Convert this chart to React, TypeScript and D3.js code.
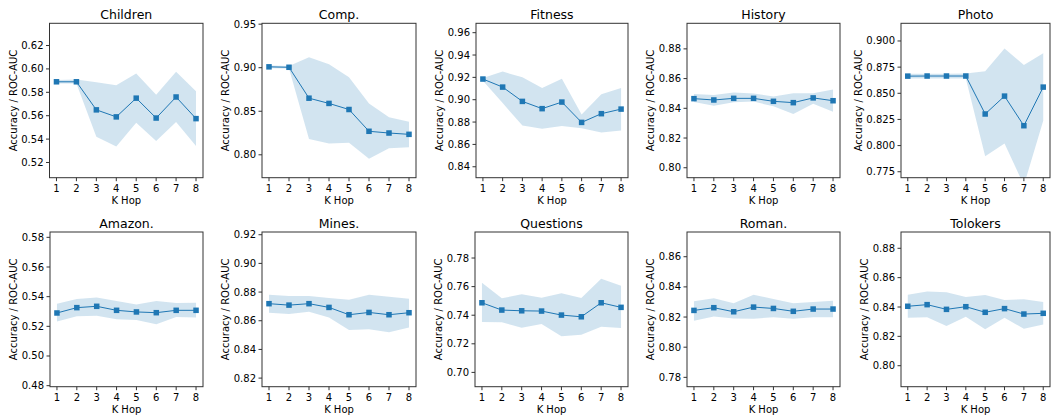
import * as d3 from 'd3'

// K hop values on the x axis
const kHop = [1, 2, 3, 4, 5, 6, 7, 8]

const datasetNames = [
  'Children', 'Comp.', 'Fitness', 'History', 'Photo',
  'Amazon.', 'Mines.', 'Questions', 'Roman.', 'Tolokers',
]

// mean / lower / upper of the shaded band
const childrenMean = [0.589, 0.589, 0.565, 0.559, 0.575, 0.558, 0.576, 0.5575]
const childrenLow = [0.5875, 0.5875, 0.542, 0.5336, 0.554, 0.5384, 0.5546, 0.534]
const childrenHigh = [0.5905, 0.591, 0.5887, 0.586, 0.596, 0.578, 0.5975, 0.581]

const compMean = [0.901, 0.9005, 0.865, 0.859, 0.852, 0.827, 0.825, 0.8235]
const compLow = [0.8995, 0.899, 0.818, 0.813, 0.8137, 0.7954, 0.8076, 0.8087]
const compHigh = [0.9025, 0.902, 0.9119, 0.904, 0.889, 0.859, 0.843, 0.838]

const fitnessMean = [0.9185, 0.9113, 0.8985, 0.892, 0.8979, 0.8797, 0.8875, 0.8916]
const fitnessLow = [0.917, 0.897, 0.877, 0.874, 0.8765, 0.8745, 0.8706, 0.8724]
const fitnessHigh = [0.9195, 0.9252, 0.92, 0.9104, 0.9187, 0.8867, 0.905, 0.9104]

const historyMean = [0.8465, 0.8456, 0.8467, 0.8467, 0.8447, 0.8438, 0.847, 0.8451]
const historyLow = [0.8442, 0.8418, 0.844, 0.8445, 0.8413, 0.8362, 0.8431, 0.8376]
const historyHigh = [0.8496, 0.849, 0.8507, 0.85, 0.8479, 0.8502, 0.8502, 0.8527]

const photoMean = [0.8664, 0.8665, 0.8665, 0.8665, 0.8302, 0.8473, 0.819, 0.8559]
const photoLow = [0.8641, 0.8641, 0.8641, 0.8641, 0.7898, 0.8021, 0.762, 0.8238]
const photoHigh = [0.8686, 0.8686, 0.8686, 0.8688, 0.871, 0.8927, 0.8771, 0.8883]

const amazonMean = [0.529, 0.5326, 0.5335, 0.5308, 0.5297, 0.5292, 0.5308, 0.5308]
const amazonLow = [0.5232, 0.5268, 0.5272, 0.5247, 0.5243, 0.5214, 0.5263, 0.5259]
const amazonHigh = [0.5353, 0.5384, 0.5395, 0.537, 0.5348, 0.537, 0.5357, 0.5359]

const minesMean = [0.8719, 0.8709, 0.8719, 0.8693, 0.8642, 0.8658, 0.8642, 0.8656]
const minesLow = [0.8656, 0.8647, 0.8663, 0.8623, 0.8535, 0.854, 0.8519, 0.8553]
const minesHigh = [0.8781, 0.8772, 0.8772, 0.8758, 0.8747, 0.8781, 0.8767, 0.8753]

const questionsMean = [0.7487, 0.7436, 0.7431, 0.7429, 0.7401, 0.7389, 0.7487, 0.7455]
const questionsLow = [0.7352, 0.735, 0.7313, 0.7338, 0.7252, 0.7264, 0.732, 0.731]
const questionsHigh = [0.7627, 0.7518, 0.7546, 0.7522, 0.7553, 0.752, 0.7655, 0.7606]

const romanMean = [0.8244, 0.8262, 0.8235, 0.8266, 0.8257, 0.8238, 0.8253, 0.8253]
const romanLow = [0.8176, 0.8204, 0.8191, 0.8189, 0.8198, 0.8189, 0.8198, 0.8198]
const romanHigh = [0.8304, 0.8324, 0.8291, 0.8348, 0.8319, 0.8291, 0.8299, 0.8308]

const tolokersMean = [0.8405, 0.8416, 0.8384, 0.8402, 0.8364, 0.8389, 0.8352, 0.8357]
const tolokersLow = [0.8327, 0.833, 0.827, 0.8334, 0.8248, 0.8327, 0.8252, 0.828]
const tolokersHigh = [0.8484, 0.8505, 0.85, 0.8468, 0.8482, 0.8448, 0.8452, 0.8434]

// y limits and ticks per subplot
const yLimits = [
  [0.507, 0.639], [0.7737, 0.951], [0.8302, 0.9684], [0.7933, 0.8972], [0.7693, 0.9169],
  [0.4793, 0.5836], [0.814, 0.9219], [0.69, 0.7982], [0.7738, 0.8764], [0.7857, 0.8911],
]
const yTickLabels = [
  ['0.52', '0.54', '0.56', '0.58', '0.60', '0.62'],
  ['0.80', '0.85', '0.90', '0.95'],
  ['0.84', '0.86', '0.88', '0.90', '0.92', '0.94', '0.96'],
  ['0.80', '0.82', '0.84', '0.86', '0.88'],
  ['0.775', '0.800', '0.825', '0.850', '0.875', '0.900'],
  ['0.48', '0.50', '0.52', '0.54', '0.56', '0.58'],
  ['0.82', '0.84', '0.86', '0.88', '0.90', '0.92'],
  ['0.70', '0.72', '0.74', '0.76', '0.78'],
  ['0.78', '0.80', '0.82', '0.84', '0.86'],
  ['0.80', '0.82', '0.84', '0.86', '0.88'],
]

const series = [
  [childrenMean, childrenLow, childrenHigh],
  [compMean, compLow, compHigh],
  [fitnessMean, fitnessLow, fitnessHigh],
  [historyMean, historyLow, historyHigh],
  [photoMean, photoLow, photoHigh],
  [amazonMean, amazonLow, amazonHigh],
  [minesMean, minesLow, minesHigh],
  [questionsMean, questionsLow, questionsHigh],
  [romanMean, romanLow, romanHigh],
  [tolokersMean, tolokersLow, tolokersHigh],
]

const W = 1052
const H = 417
const BLUE = '#1f77b4'
const INK = '#333'
const FONT = 'DejaVu Sans, sans-serif'

const colLeft = [[49.5, 262, 476, 687, 901], [50, 262, 475, 687, 901]]
const colRight = [203, 416, 628, 840, 1050]
const rowTop = [23.3, 232]
const rowBottom = [177.7, 386.7]

function Panel({ idx }: { idx: number }) {
  const row = Math.floor(idx / 5)
  const col = idx % 5
  const left = colLeft[row][col]
  const right = colRight[col]
  const top = rowTop[row]
  const bottom = rowBottom[row]
  const [mean, low, high] = series[idx]

  const x = d3.scaleLinear().domain([0.65, 8.35]).range([left, right])
  const y = d3.scaleLinear().domain(yLimits[idx]).range([bottom, top])

  const area = d3.area<number>()
    .x((_, i) => x(kHop[i]))
    .y0((_, i) => y(low[i]))
    .y1((_, i) => y(high[i]))
  const line = d3.line<number>()
    .x((_, i) => x(kHop[i]))
    .y((d) => y(d))

  const ticks = yTickLabels[idx]
  const maxLen = d3.max(ticks, (t) => t.length) as number
  const tickW = ((maxLen - 1) * 0.636 + 0.318) * 10
  const yLabelX = left - 3.5 - 3.5 - tickW - 4 - 3
  const clipId = `clip-${idx}`

  return (
    <g>
      <defs>
        <clipPath id={clipId}>
          <rect x={left} y={top} width={right - left} height={bottom - top} />
        </clipPath>
      </defs>
      <g clipPath={`url(#${clipId})`}>
        <path d={area(mean) as string} fill={BLUE} fillOpacity={0.2} />
        <path d={line(mean) as string} fill="none" stroke={BLUE} strokeWidth={1} />
        {mean.map((v, i) => (
          <rect key={i} x={x(kHop[i]) - 2.75} y={y(v) - 2.75} width={5.5} height={5.5} fill={BLUE} />
        ))}
      </g>
      <rect x={left} y={top} width={right - left} height={bottom - top} fill="none" stroke={INK} strokeWidth={1} />
      {kHop.map((k) => (
        <g key={k}>
          <line x1={x(k)} x2={x(k)} y1={bottom} y2={bottom + 3.5} stroke={INK} />
          <text x={x(k)} y={bottom + 14} textAnchor="middle" fontSize={10} fontFamily={FONT} fill="#000">{k}</text>
        </g>
      ))}
      {ticks.map((t) => (
        <g key={t}>
          <line x1={left - 3.5} x2={left} y1={y(+t)} y2={y(+t)} stroke={INK} />
          <text x={left - 6} y={y(+t)} dy="0.35em" textAnchor="end" fontSize={10} fontFamily={FONT} fill="#000">{t}</text>
        </g>
      ))}
      <text x={(left + right) / 2} y={top - 4} textAnchor="middle" fontSize={12.5} fontFamily={FONT} fill="#000">
        {datasetNames[idx]}
      </text>
      <text x={(left + right) / 2} y={bottom + 26} textAnchor="middle" fontSize={10} fontFamily={FONT} fill="#000">K Hop</text>
      <text
        transform={`translate(${yLabelX},${(top + bottom) / 2}) rotate(-90)`}
        textAnchor="middle" dy="0.35em" fontSize={10} fontFamily={FONT} fill="#000"
      >
        Accuracy / ROC-AUC
      </text>
    </g>
  )
}

export default function App() {
  return (
    <svg width={W} height={H} style={{ position: 'absolute', left: 0, top: 0, background: '#fff' }}>
      <rect width={W} height={H} fill="#fff" />
      {datasetNames.map((_, i) => <Panel key={i} idx={i} />)}
    </svg>
  )
}
